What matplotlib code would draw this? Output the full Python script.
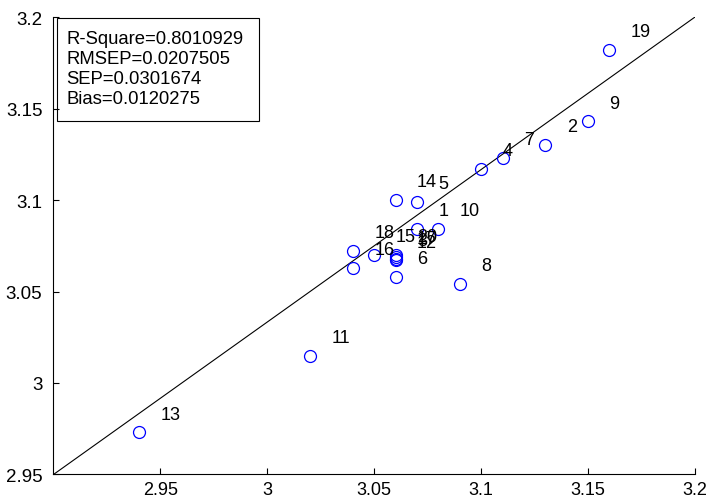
import matplotlib
matplotlib.use("Agg")
import matplotlib.pyplot as plt
from matplotlib.patches import Rectangle

plt.rcParams['font.family'] = ['Liberation Sans', 'DejaVu Sans']

# sample numbers, measured and predicted values
ids = [1, 2, 3, 4, 5, 6, 7, 8, 9, 10, 11, 12, 13, 14, 15, 16, 17, 18, 19, 20]
measured = [3.07, 3.13, 3.06, 3.10, 3.07, 3.06, 3.11, 3.09, 3.15, 3.08,
            3.02, 3.06, 2.94, 3.06, 3.05, 3.04, 3.06, 3.04, 3.16, 3.06]
predicted = [3.084, 3.130, 3.068, 3.117, 3.099, 3.058, 3.123, 3.054, 3.143, 3.084,
             3.015, 3.067, 2.973, 3.100, 3.070, 3.063, 3.069, 3.072, 3.182, 3.070]

# reference line
line_x = [2.9, 3.2]
line_y = [2.95, 3.2]

stats = ["R-Square=0.8010929", "RMSEP=0.0207505", "SEP=0.0301674", "Bias=0.0120275"]

xticks = [2.95, 3.0, 3.05, 3.1, 3.15, 3.2]
yticks = [2.95, 3.0, 3.05, 3.1, 3.15, 3.2]
ticklabels = ['2.95', '3', '3.05', '3.1', '3.15', '3.2']

fig = plt.figure(figsize=(7.11, 5.02), dpi=100)
ax = fig.add_axes([0.0752, 0.0528, 0.9023, 0.9113])

ax.plot(line_x, line_y, color='black', lw=0.8)
ax.plot(measured, predicted, 'o', mfc='none', mec='blue', ms=8.6, mew=0.9)
for i, x, y in zip(ids, measured, predicted):
    ax.text(x + 0.01, y + 0.01, str(i), fontsize=13, ha='left', va='center')

ax.set_xlim(2.9, 3.2)
ax.set_ylim(2.95, 3.2)
ax.set_xticks(xticks)
ax.set_yticks(yticks)
ax.set_xticklabels(ticklabels)
ax.set_yticklabels(ticklabels)
ax.tick_params(direction='in', length=4, width=0.8, labelsize=13.5)
ax.tick_params(axis='x', pad=5, labelsize=13)
ax.tick_params(axis='y', pad=8)
for s in ['top', 'right']:
    ax.spines[s].set_visible(False)
for s in ['left', 'bottom']:
    ax.spines[s].set_linewidth(0.8)

# stats box
fig.add_artist(Rectangle((57 / 711, 1 - 122 / 502), (259 - 57) / 711, (122 - 19) / 502,
                         transform=fig.transFigure, fill=False, lw=0.8, color='black'))
for k, s in enumerate(stats):
    fig.text(66 / 711, 1 - (39 + 20 * k) / 502, s, fontsize=13.3, ha='left', va='center')

plt.savefig("out.png")
